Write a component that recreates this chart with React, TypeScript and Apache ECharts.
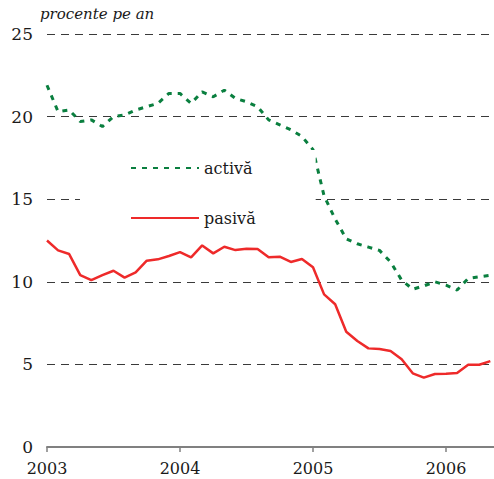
import React, { useEffect, useRef } from "react";
import * as echarts from "echarts";

const startYear = 2003;
const yearTicks = [0, 12, 24, 36];
// Monthly, Jan 2003 – May 2006
const activa = [
  21.9, 20.3, 20.4, 19.7, 19.8, 19.4, 20.0, 20.1, 20.4, 20.6, 20.8, 21.4,
  21.4, 20.8, 21.5, 21.2, 21.6, 21.1, 20.9, 20.6, 19.8, 19.5, 19.2, 18.8,
  18.0, 15.2, 13.8, 12.6, 12.3, 12.1, 11.9, 11.2, 10.1, 9.55, 9.75, 10.0,
  9.8, 9.5, 10.2, 10.3, 10.4,
];
const pasiva = [
  12.5, 11.9, 11.68, 10.4, 10.1, 10.4, 10.67, 10.25, 10.57, 11.28, 11.36, 11.56,
  11.8, 11.48, 12.2, 11.72, 12.12, 11.92, 12.0, 11.98, 11.48, 11.52, 11.2, 11.38,
  10.88, 9.24, 8.64, 6.98, 6.42, 5.97, 5.93, 5.81, 5.31, 4.46, 4.2, 4.42,
  4.44, 4.48, 4.98, 4.98, 5.2,
];
const seriesNames = ["activă", "pasivă"];
const unitLabel = "procente pe an";

const FONT = "DejaVu Serif";

export default function App() {
  const ref = useRef<HTMLDivElement>(null);
  useEffect(() => {
    if (!ref.current) return;
    const chart = echarts.init(ref.current, null, { renderer: "svg" });
    chart.setOption({
      animation: false,
      backgroundColor: "#fff",
      textStyle: { fontFamily: FONT },
      title: {
        text: unitLabel,
        left: 40,
        top: 6,
        padding: 0,
        textStyle: {
          fontFamily: FONT,
          fontStyle: "italic",
          fontWeight: "normal",
          fontSize: 15,
          color: "#1a1a1a",
        },
      },
      legend: {
        orient: "vertical",
        left: 80,
        top: 150,
        backgroundColor: "#fff",
        padding: [10, 60, 8, 50],
        itemGap: 34,
        itemWidth: 68,
        itemHeight: 14,
        itemStyle: { opacity: 0 },
        textStyle: { fontFamily: FONT, fontSize: 16, color: "#1a1a1a" },
        data: seriesNames,
      },
      grid: { left: 47, right: 0, top: 34, bottom: 32 },
      xAxis: {
        type: "value",
        min: 0,
        max: (494 - 47) / (133 / 12),
        axisLine: { show: true, lineStyle: { color: "#808080", width: 2 } },
        axisTick: {
          show: true,
          customValues: yearTicks,
          length: 5,
          lineStyle: { color: "#808080", width: 1.5 },
        },
        axisLabel: {
          customValues: yearTicks,
          formatter: (v: number) => String(startYear + Math.round(v / 12)),
          fontFamily: FONT,
          fontSize: 16,
          color: "#1a1a1a",
          margin: 13,
        },
        splitLine: { show: false },
      },
      yAxis: {
        type: "value",
        min: 0,
        max: 25,
        interval: 5,
        axisLine: { show: false },
        axisTick: { show: false },
        axisLabel: { fontFamily: FONT, fontSize: 17, color: "#1a1a1a", margin: 14 },
        splitLine: { lineStyle: { color: "#3a3a3a", type: [8, 6], width: 1 } },
      },
      series: [
        {
          name: seriesNames[0],
          type: "line",
          symbol: "none",
          data: activa.map((v, i) => [i, v]),
          lineStyle: { color: "#0a7f3f", width: 3, type: [5, 6] },
          itemStyle: { color: "#0a7f3f" },
          z: 3,
        },
        {
          name: seriesNames[1],
          type: "line",
          symbol: "none",
          data: pasiva.map((v, i) => [i, v]),
          lineStyle: { color: "#ee2a2a", width: 2.5 },
          itemStyle: { color: "#ee2a2a" },
          z: 3,
        },
      ],
    });
    return () => chart.dispose();
  }, []);
  return (
    <div
      ref={ref}
      style={{ position: "fixed", left: 0, top: 0, width: 494, height: 479 }}
    />
  );
}
